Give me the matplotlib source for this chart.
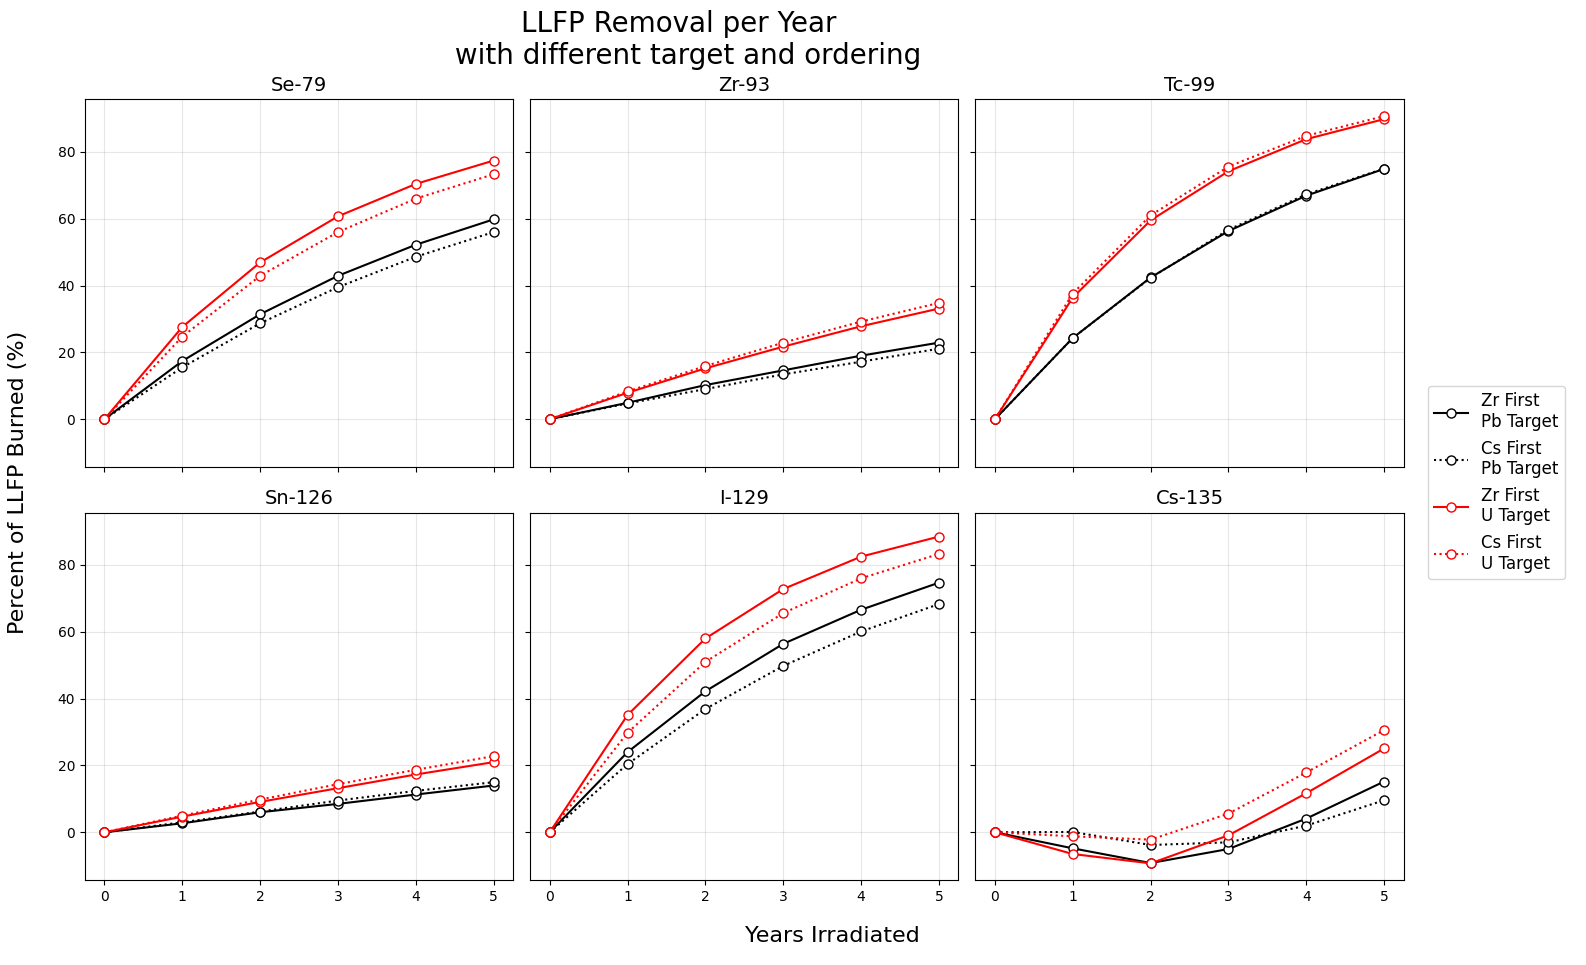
import numpy as np
import matplotlib
matplotlib.use('Agg')
import matplotlib.pyplot as plt

years = [0, 1, 2, 3, 4, 5]
isotopes = ['Se-79', 'Zr-93', 'Tc-99', 'Sn-126', 'I-129', 'Cs-135']
labels = ['Zr First\nPb Target', 'Cs First\nPb Target', 'Zr First\nU Target', 'Cs First\nU Target']

# percent burned, one list per isotope for each case
zr_pb = {
    'Se-79': [0, 17.4, 31.4, 42.9, 52.2, 59.8],
    'Zr-93': [0, 4.9, 10.2, 14.6, 19.0, 22.9],
    'Tc-99': [0, 24.3, 42.4, 56.3, 66.9, 74.9],
    'Sn-126': [0, 2.7, 6.0, 8.5, 11.3, 14.0],
    'I-129': [0, 24.0, 42.2, 56.4, 66.6, 74.7],
    'Cs-135': [0, -4.8, -9.2, -5.0, 4.1, 15.2],
}
cs_pb = {
    'Se-79': [0, 15.5, 28.7, 39.5, 48.6, 56.0],
    'Zr-93': [0, 4.7, 9.0, 13.4, 17.2, 21.1],
    'Tc-99': [0, 24.3, 42.3, 56.7, 67.3, 75.0],
    'Sn-126': [0, 3.0, 6.2, 9.5, 12.4, 15.0],
    'I-129': [0, 20.4, 36.9, 49.8, 60.1, 68.3],
    'Cs-135': [0, 0.1, -3.8, -3.0, 2.0, 9.6],
}
zr_u = {
    'Se-79': [0, 27.6, 46.9, 60.7, 70.4, 77.4],
    'Zr-93': [0, 7.9, 15.2, 21.7, 27.8, 33.1],
    'Tc-99': [0, 36.4, 59.5, 74.2, 83.8, 89.8],
    'Sn-126': [0, 4.7, 9.1, 13.2, 17.3, 21.0],
    'I-129': [0, 35.1, 58.0, 72.8, 82.5, 88.5],
    'Cs-135': [0, -6.5, -9.3, -0.9, 11.7, 25.1],
}
cs_u = {
    'Se-79': [0, 24.7, 42.9, 56.0, 66.0, 73.3],
    'Zr-93': [0, 8.3, 15.9, 22.9, 29.2, 34.8],
    'Tc-99': [0, 37.6, 61.0, 75.6, 84.8, 90.7],
    'Sn-126': [0, 5.0, 9.8, 14.4, 18.7, 22.8],
    'I-129': [0, 29.8, 51.0, 65.6, 76.0, 83.3],
    'Cs-135': [0, -1.2, -2.2, 5.6, 17.9, 30.6],
}

styles = [(zr_pb, 'black', '-'), (cs_pb, 'black', ':'),
          (zr_u, 'red', '-'), (cs_u, 'red', ':')]

fig, axes = plt.subplots(2, 3, figsize=(15.86, 9.65), dpi=100, sharex=True, sharey=True)
fig.subplots_adjust(left=0.0536, right=0.885, top=0.897, bottom=0.088, wspace=0.04, hspace=0.124)

for ax, iso in zip(axes.flat, isotopes):
    for (data, c, ls), lbl in zip(styles, labels):
        ax.plot(years, data[iso], ls, color=c, marker='o', mfc='white', mec=c, ms=6.5, lw=1.5, label=lbl)
    ax.set_title(iso, fontsize=14)
    ax.grid(alpha=0.3)
    ax.set_xticks(years)

handles, lbls = axes[0, 0].get_legend_handles_labels()
fig.legend(handles, lbls, loc='center left', bbox_to_anchor=(0.895, 0.5), fontsize=12)
fig.suptitle('LLFP Removal per Year \n with different target and ordering', fontsize=20, x=0.431, y=0.99)
fig.supxlabel('Years Irradiated', fontsize=16, x=0.525, y=0.02)
fig.supylabel('Percent of LLFP Burned (%)', fontsize=16, x=0.005)

plt.savefig('out.png', dpi=100)
